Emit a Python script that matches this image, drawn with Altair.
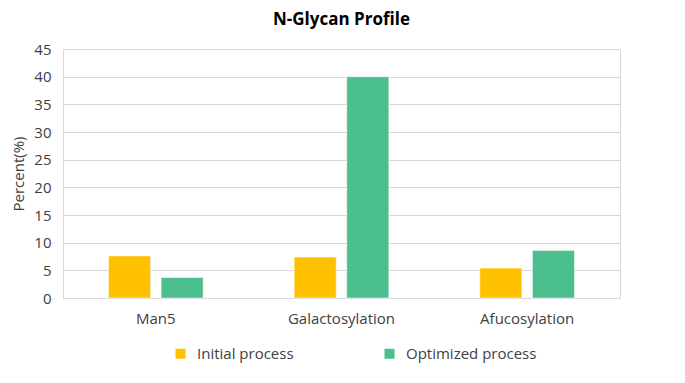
import altair as alt
import pandas as pd

categories = ["Man5", "Galactosylation", "Afucosylation"]
series = ["Initial process", "Optimized process"]
initial = [7.6, 7.4, 5.4]
optimized = [3.7, 40.0, 8.6]
colors = ["#FFC000", "#4CBF8F"]

rows = []
for c, a, b in zip(categories, initial, optimized):
    rows.append({"Category": c, "Series": series[0], "Value": a})
    rows.append({"Category": c, "Series": series[1], "Value": b})
df = pd.DataFrame(rows)

font = "Open Sans"
tc = "#404040"

chart = alt.Chart(df).mark_bar(strokeWidth=1, strokeOpacity=0.5, stroke="white").encode(
    x=alt.X("Category:N", sort=categories,
            scale=alt.Scale(paddingInner=0.49, paddingOuter=0.245),
            axis=alt.Axis(title=None, labelAngle=0, ticks=False, labelPadding=13,
                          labelFontSize=15, labelColor=tc, labelFont=font,
                          domainColor="#D9D9D9", grid=False)),
    xOffset=alt.XOffset("Series:N", sort=series, scale=alt.Scale(paddingInner=0.2)),
    y=alt.Y("Value:Q", scale=alt.Scale(domain=[0, 45], nice=False),
            axis=alt.Axis(title="Percent(%)", values=list(range(0, 50, 5)), ticks=False,
                          domain=False, labelPadding=12, labelFontSize=15,
                          labelColor=tc, labelFont=font, gridColor="#D9D9D9",
                          titleFont=font, titleFontSize=15, titleFontWeight="normal",
                          titleColor=tc, titlePadding=7)),
    color=alt.Color("Series:N", sort=series,
                    scale=alt.Scale(domain=series, range=colors),
                    legend=alt.Legend(title=None, orient="none", direction="horizontal",
                                      legendX=110, legendY=297, symbolType="square",
                                      symbolSize=100, symbolStrokeWidth=0,
                                      labelFont=font, labelFontSize=15,
                                      labelColor=tc, columnPadding=88,
                                      labelOffset=9, padding=0)),
).properties(
    width=557,
    height=249,
    title=alt.TitleParams("N-Glycan Profile", font=font, fontSize=17, fontWeight="bold",
                          color="#000000", offset=13, anchor="middle"),
    padding={"left": 3, "top": 3, "right": 5, "bottom": 5},
).configure_view(stroke="#D9D9D9", strokeWidth=1)

chart.save("out.html", embed_options={"renderer": "svg", "actions": False})
